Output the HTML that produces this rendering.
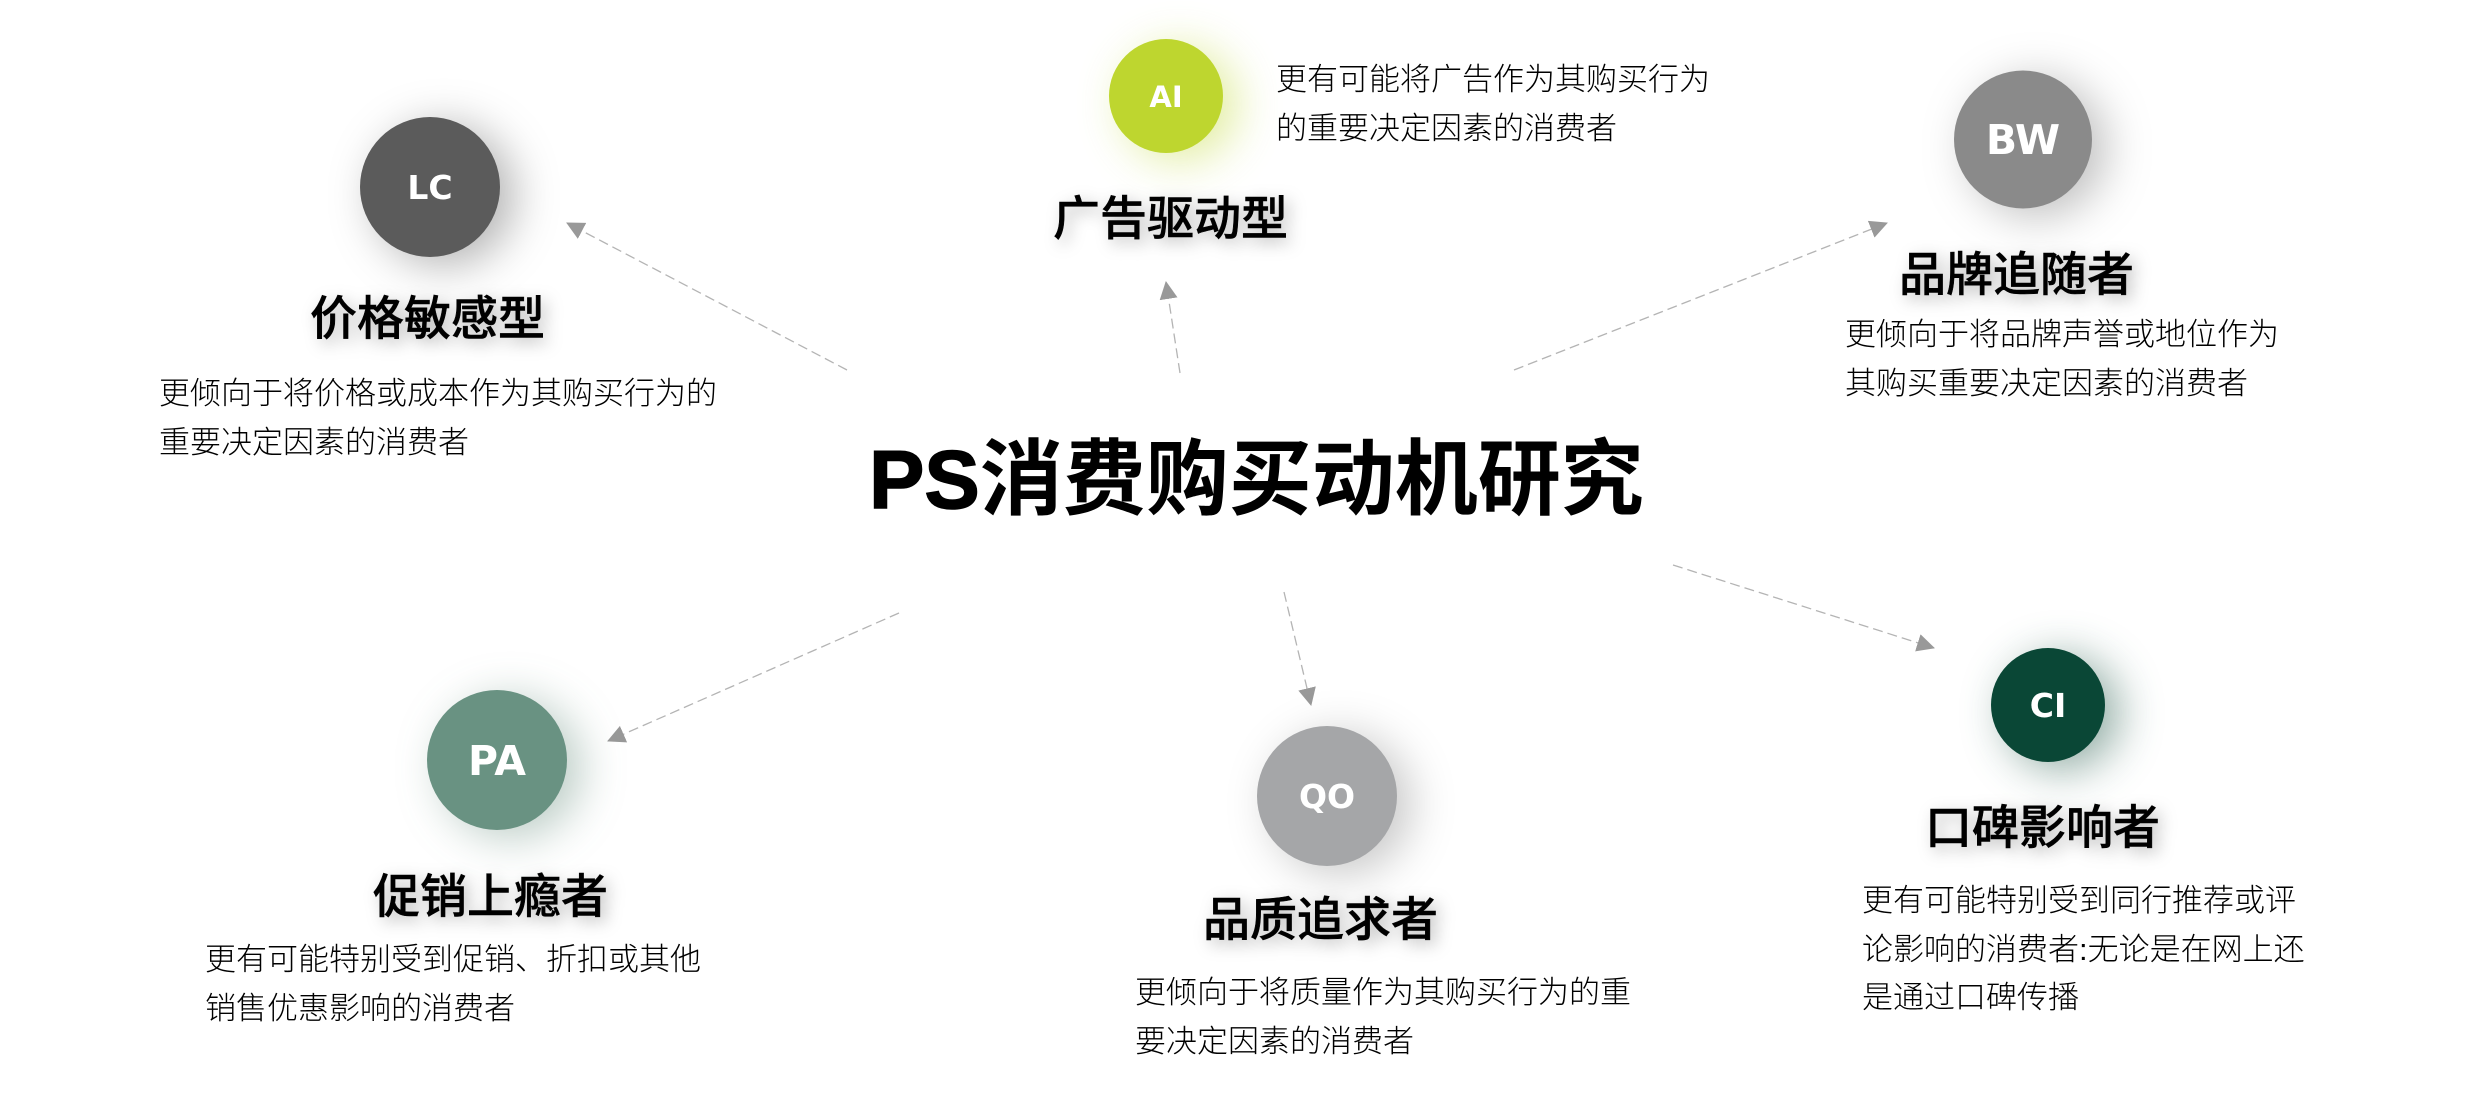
<!DOCTYPE html>
<html lang="zh"><head><meta charset="utf-8"><title>PS消费购买动机研究</title>
<style>
html,body{margin:0;padding:0;background:#fff;width:2480px;height:1094px;overflow:hidden}
svg{display:block}
text{font-family:"Liberation Sans","Noto Sans CJK SC",sans-serif}
.t{font-size:47px;font-weight:500;fill:#000;stroke:#000;stroke-width:.5px;filter:drop-shadow(5px 5px 8px rgba(0,0,0,.28))}
.d{font-size:31px;font-weight:300;fill:#000}
.c{font-family:"DejaVu Sans",sans-serif;font-weight:700;fill:#fff;text-anchor:middle}
.l{stroke:#b4b4b4;stroke-width:1.3;stroke-dasharray:10 5;fill:none;marker-end:url(#a)}
</style></head><body>
<svg width="2480" height="1094" viewBox="0 0 2480 1094" xmlns="http://www.w3.org/2000/svg">
<defs><marker id="a" markerUnits="userSpaceOnUse" markerWidth="18" markerHeight="18" refX="17" refY="9" orient="auto"><path d="M0 0L18 9L0 18Z" fill="#999"/></marker></defs>

<path class="l" d="M847 370L567 223"/>
<path class="l" d="M1180 373L1166 282"/>
<path class="l" d="M1514 370L1887 223"/>
<path class="l" d="M1673 565L1934 648"/>
<path class="l" d="M1284 592L1311 705"/>
<path class="l" d="M899 613L608 741"/>

<text x="869" y="508" font-size="83" font-weight="700" fill="#000"><tspan stroke="#000" stroke-width="1.5">PS</tspan>消费购买动机研究</text>

<circle cx="430" cy="187" r="70" fill="#5b5b5b" style="filter:drop-shadow(14px 8px 22px rgba(0,0,0,.3))"/>
<text class="c" x="430" y="199" font-size="33">LC</text>
<text class="t" x="310" y="335">价格敏感型</text>
<text class="d" x="159" y="404">更倾向于将价格或成本作为其购买行为的</text>
<text class="d" x="159" y="453">重要决定因素的消费者</text>

<circle cx="1166" cy="96" r="57" fill="#bed62f" style="filter:drop-shadow(14px 8px 22px rgba(190,214,47,.45))"/>
<text class="c" x="1166" y="107" font-size="29">AI</text>
<text class="t" x="1053" y="235">广告驱动型</text>
<text class="d" x="1276" y="90">更有可能将广告作为其购买行为</text>
<text class="d" x="1276" y="139">的重要决定因素的消费者</text>

<circle cx="2023" cy="139.500" r="69" fill="#8a8a8a" style="filter:drop-shadow(14px 8px 22px rgba(0,0,0,.25))"/>
<text class="c" x="2023" y="154" font-size="41">BW</text>
<text class="t" x="1899" y="291">品牌追随者</text>
<text class="d" x="1845" y="345">更倾向于将品牌声誉或地位作为</text>
<text class="d" x="1845" y="394">其购买重要决定因素的消费者</text>

<circle cx="497" cy="760" r="70" fill="#699282" style="filter:drop-shadow(14px 8px 22px rgba(60,110,90,.35))"/>
<text class="c" x="497" y="775" font-size="41">PA</text>
<text class="t" x="373" y="913">促销上瘾者</text>
<text class="d" x="205" y="970">更有可能特别受到促销、折扣或其他</text>
<text class="d" x="205" y="1019">销售优惠影响的消费者</text>

<circle cx="1327" cy="796" r="70" fill="#a5a6a8" style="filter:drop-shadow(14px 8px 22px rgba(0,0,0,.22))"/>
<text class="c" x="1327" y="808" font-size="33">QO</text>
<text class="t" x="1203" y="936">品质追求者</text>
<text class="d" x="1135" y="1003">更倾向于将质量作为其购买行为的重</text>
<text class="d" x="1135" y="1052">要决定因素的消费者</text>

<circle cx="2048" cy="705" r="57" fill="#0a4736" style="filter:drop-shadow(14px 8px 22px rgba(10,71,54,.45))"/>
<text class="c" x="2048" y="717" font-size="33">CI</text>
<text class="t" x="1925" y="844">口碑影响者</text>
<text class="d" x="1862" y="911">更有可能特别受到同行推荐或评</text>
<text class="d" x="1862" y="960">论影响的消费者:无论是在网上还</text>
<text class="d" x="1862" y="1008">是通过口碑传播</text>
</svg>
</body></html>
